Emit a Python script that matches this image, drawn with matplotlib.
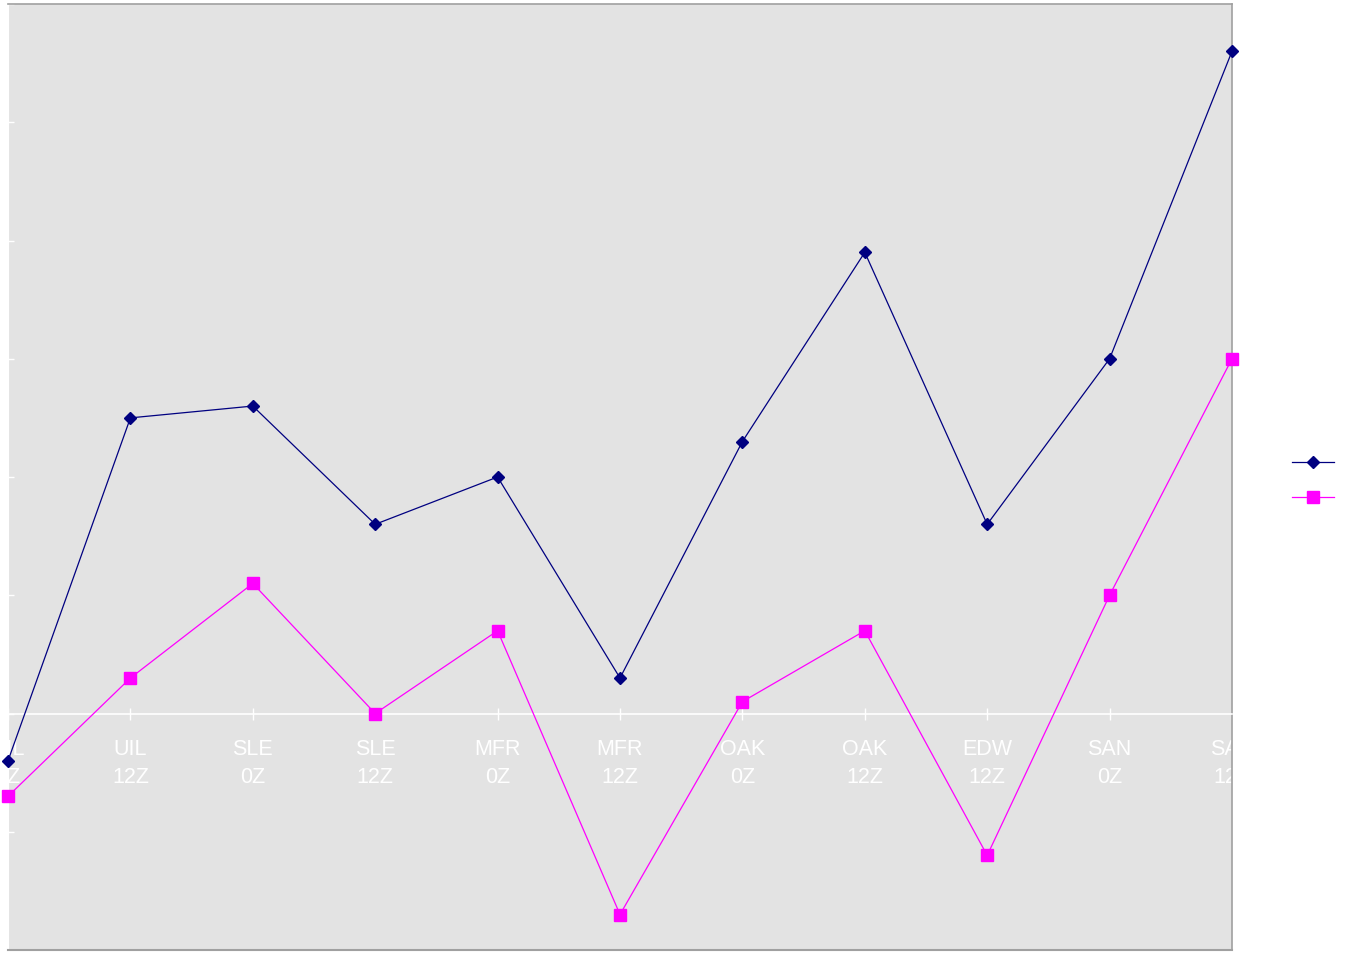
import matplotlib
matplotlib.use("Agg")
import matplotlib.pyplot as plt
from matplotlib.lines import Line2D

plt.rcParams['font.family'] = ['Liberation Sans', 'DejaVu Sans']

stations = ["UIL\n0Z", "UIL\n12Z", "SLE\n0Z", "SLE\n12Z", "MFR\n0Z", "MFR\n12Z",
            "OAK\n0Z", "OAK\n12Z", "EDW\n12Z", "SAN\n0Z", "SAN\n12Z"]
series_a = [-0.4, 2.5, 2.6, 1.6, 2.0, 0.3, 2.3, 3.9, 1.6, 3.0, 5.6]
series_b = [-0.7, 0.3, 1.1, 0.0, 0.7, -1.7, 0.1, 0.7, -1.2, 1.0, 3.0]
y_ticks = [-2, -1, 0, 1, 2, 3, 4, 5, 6]

fig = plt.figure(figsize=(13.5, 9.54), dpi=100)
ax = fig.add_axes([8/1350, 3/954, 1224/1350, 946/954])
ax.set_facecolor('#e3e3e3')

x = list(range(len(stations)))
ax.plot(x, series_a, color='#000080', lw=0.9, marker='D', ms=6,
        clip_on=False, zorder=3)
ax.plot(x, series_b, color='#ff00ff', lw=0.9, marker='s', ms=8,
        clip_on=False, zorder=3)

ax.set_xlim(0, len(stations) - 1)
ax.set_ylim(-2, 6)
ax.set_yticks(y_ticks)
ax.set_yticklabels([])
ax.set_xticks(x)
ax.set_xticklabels(stations)

ax.spines['bottom'].set_position(('data', 0))
ax.spines['bottom'].set_color('white')
ax.spines['bottom'].set_linewidth(1.2)
ax.spines['left'].set_color('white')
for s in ['top', 'right']:
    ax.spines[s].set_color('#a0a0a0')
    ax.spines[s].set_linewidth(1.2)
ax.plot([0, 1], [0, 0], transform=ax.transAxes, color='#a0a0a0', lw=1.5,
        clip_on=False, zorder=4)

ax.tick_params(axis='x', direction='inout', length=9, width=1, color='white',
               pad=13, labelcolor='white', labelsize=15.5)
ax.tick_params(axis='y', direction='in', length=4, width=1, color='white')

for lbl in ax.get_xticklabels():
    lbl.set_linespacing(1.45)
    lbl.set_clip_path(ax.patch)

handles = [Line2D([], [], color='#000080', lw=0.9, marker='D', ms=6),
           Line2D([], [], color='#ff00ff', lw=0.9, marker='s', ms=8)]
fig.legend(handles, ['', ''], loc='center', bbox_to_anchor=(1320/1350, 1 - 482/954),
           frameon=False, handlelength=2.3, labelspacing=1.0, fontsize=13)

fig.savefig('out.png', dpi=100)
